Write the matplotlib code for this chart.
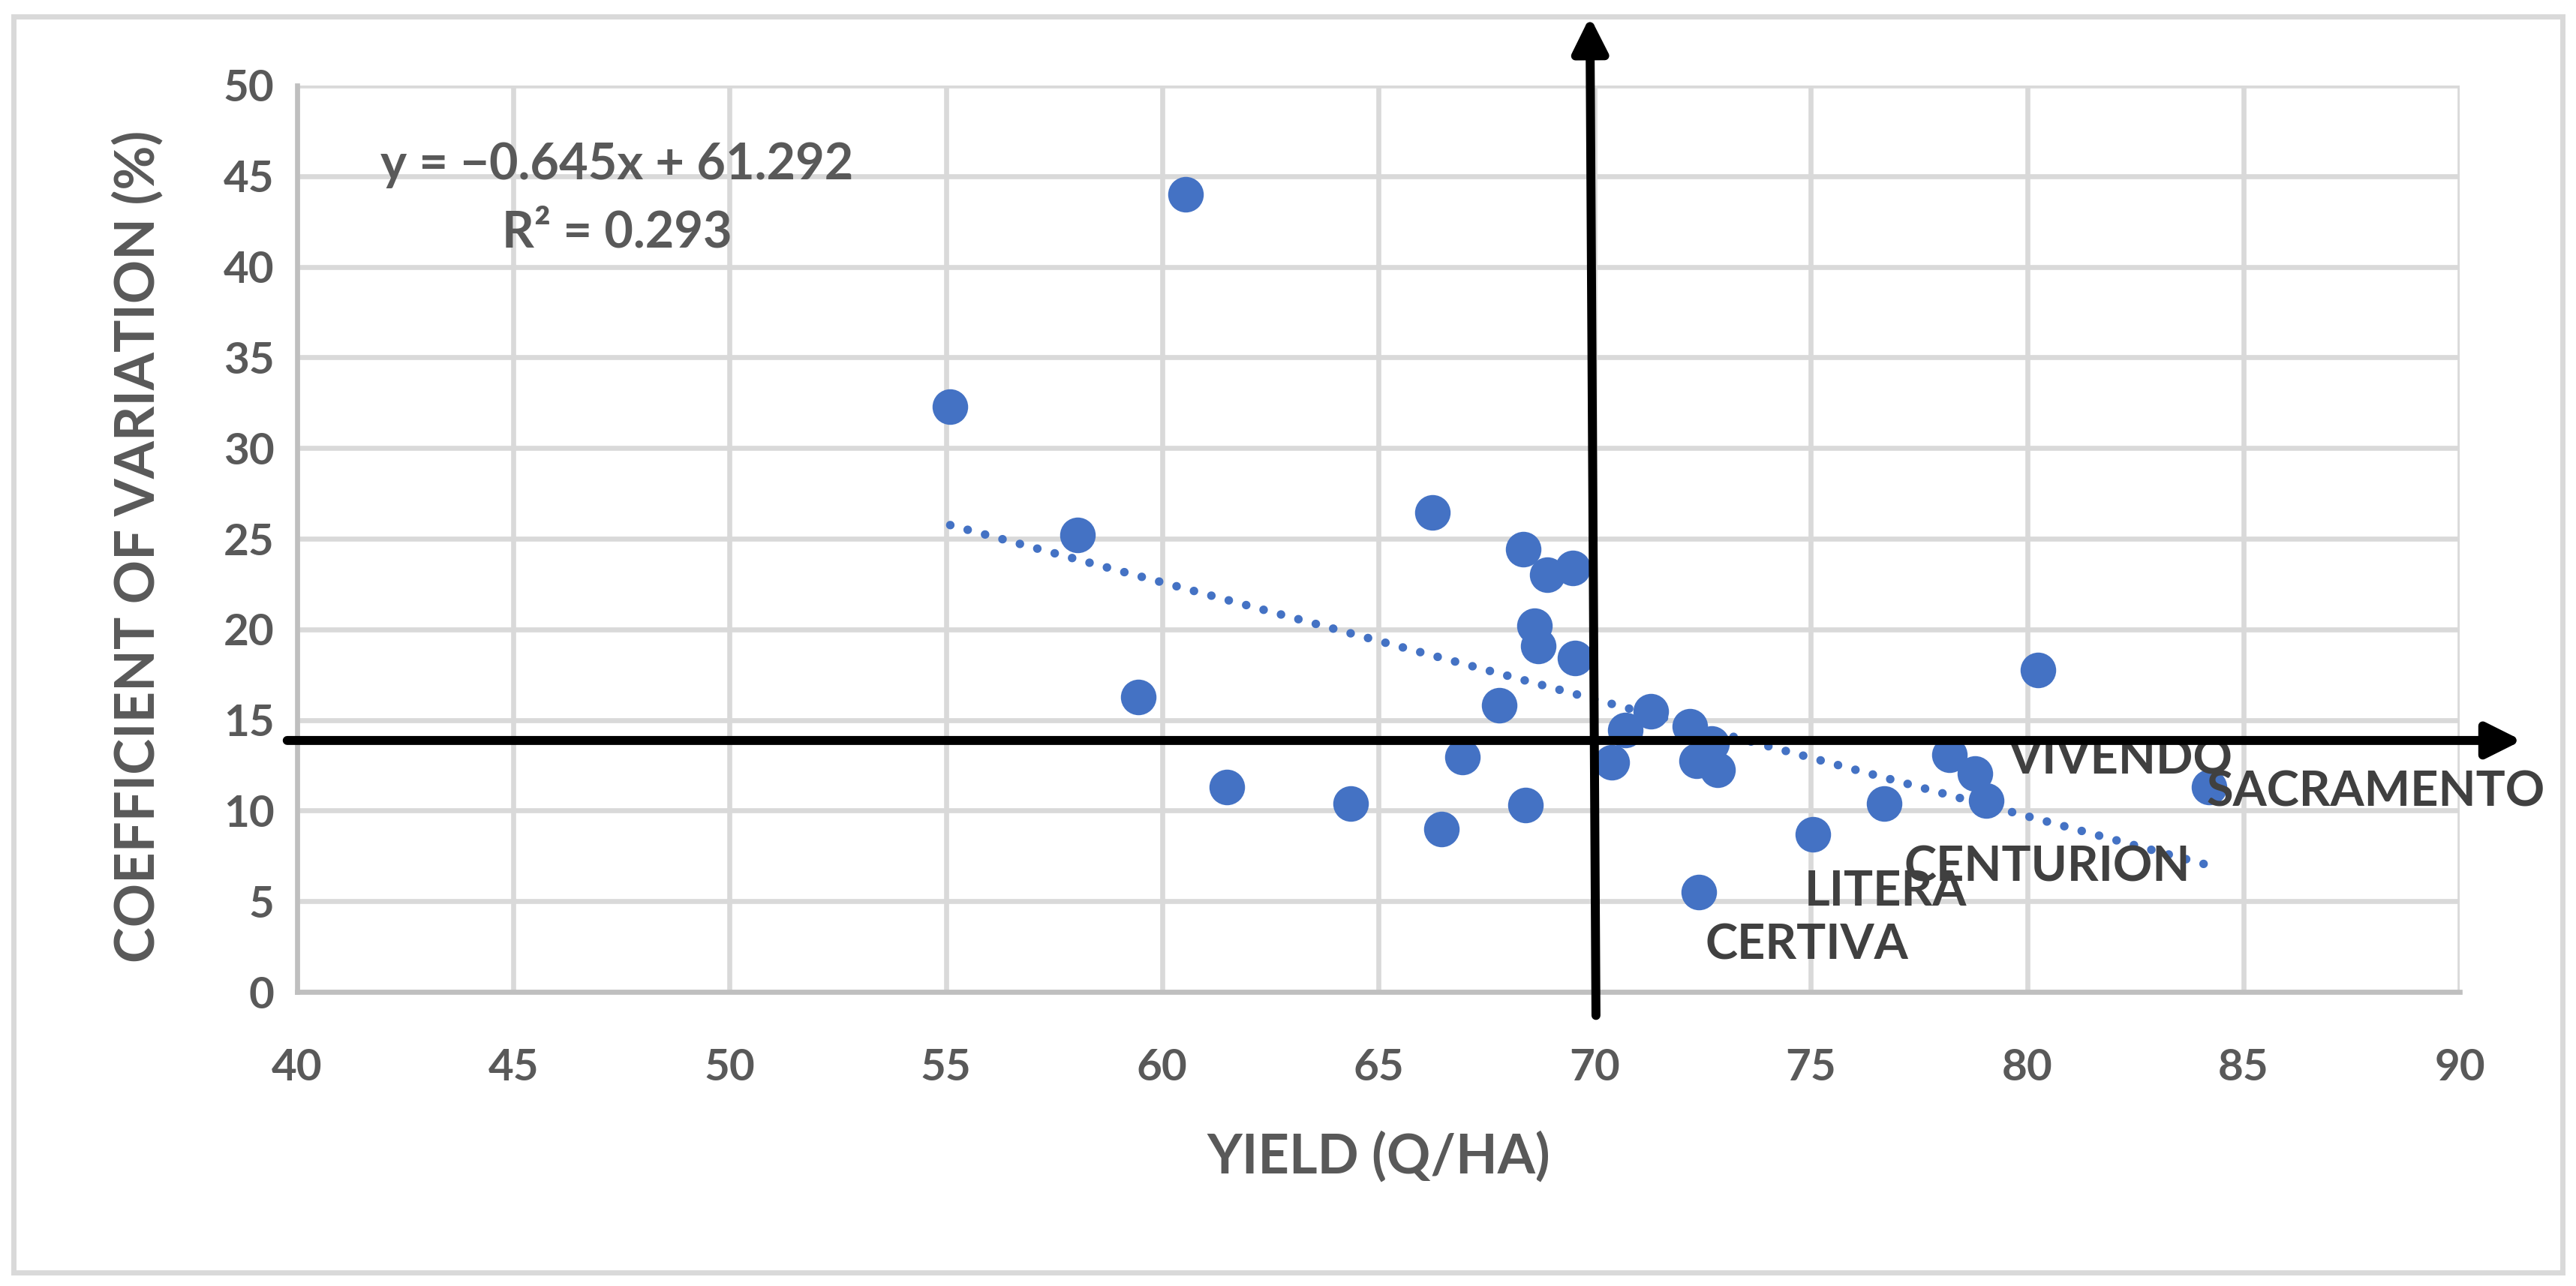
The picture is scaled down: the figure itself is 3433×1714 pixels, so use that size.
import numpy as np
import matplotlib
matplotlib.use("Agg")
import matplotlib.pyplot as plt
from matplotlib.patches import Rectangle

plt.rcParams["font.family"] = ["Lato", "DejaVu Sans"]

# 产量与变异系数
YIELD = [60.55, 55.1, 66.25, 58.05, 68.35, 69.5, 68.9, 68.6, 68.7, 69.55,
         80.25, 59.45, 67.8, 71.3, 70.7, 70.4, 72.2, 72.7, 72.35, 72.85,
         66.95, 61.5, 64.35, 68.4, 66.45, 76.7, 75.05, 72.4, 78.2, 78.8,
         79.05, 84.2]
CV = [44.0, 32.3, 26.45, 25.2, 24.4, 23.4, 23.0, 20.2, 19.1, 18.4,
      17.75, 16.25, 15.8, 15.5, 14.45, 12.65, 14.65, 13.7, 12.75, 12.25,
      12.95, 11.3, 10.4, 10.3, 9.0, 10.4, 8.7, 5.5, 13.1, 12.05,
      10.55, 11.3]

# 品种标注
LABELS = ["VIVENDO", "SACRAMENTO", "CENTURION", "LITERA", "CERTIVA"]
LABEL_X = [79.56, 84.15, 77.15, 74.85, 72.56]
LABEL_Y = [12.02, 10.24, 6.12, 4.75, 1.80]

# 趋势线
SLOPE, INTERCEPT, R2 = -0.645, 61.292, 0.293

X_TICKS = list(range(40, 95, 5))
Y_TICKS = list(range(0, 55, 5))

# 十字参考线
REF_X_BOTTOM, REF_X_TOP = 70.03, 69.89
REF_Y = 13.87

BLUE = "#4472C4"
GRAY = "#595959"
DARK = "#404040"

fig = plt.figure(figsize=(17.165, 8.57), dpi=200)
ax = fig.add_axes([0.11535, 0.2287, 0.8395, 0.70479])
ax.set_xlim(40, 90)
ax.set_ylim(0, 50)
ax.set_xticks(X_TICKS)
ax.set_yticks(Y_TICKS)
ax.grid(color="#D9D9D9", lw=2.4)
ax.set_axisbelow(True)
for s in ["top", "right"]:
    ax.spines[s].set_visible(False)
for s in ["left", "bottom"]:
    ax.spines[s].set_color("#BFBFBF")
    ax.spines[s].set_linewidth(2.4)
ax.tick_params(axis="both", length=0, labelsize=21, labelcolor=GRAY)
ax.tick_params(axis="x", pad=27)
ax.tick_params(axis="y", pad=11)
for lab in ax.get_xticklabels() + ax.get_yticklabels():
    lab.set_fontweight("bold")

# 趋势线
xs = np.array([min(YIELD), max(YIELD)])
ax.plot(xs, SLOPE * xs + INTERCEPT, color=BLUE, lw=4.1,
        linestyle=(0, (0.01, 2.1)), dash_capstyle="round", zorder=2)

ax.scatter(YIELD, CV, s=292, color=BLUE, linewidths=0, zorder=3)

for name, x, y in zip(LABELS, LABEL_X, LABEL_Y):
    ax.text(x, y, name, ha="left", va="baseline", fontsize=23.4,
            fontweight="bold", color=DARK, zorder=4)

eq = f"y = {SLOPE:.3f}x + {INTERCEPT:.3f}".replace("-", "\u2212")
ax.text(47.4, 44.81, eq, ha="center", va="baseline", fontsize=24,
        fontweight="bold", color=GRAY, zorder=4)
ax.text(47.4, 41.06, f"R\u00b2 = {R2:.3f}", ha="center", va="baseline",
        fontsize=24, fontweight="bold", color=GRAY, zorder=4)

# 箭头
arrow = dict(arrowstyle="-|>,head_length=14,head_width=7", mutation_scale=1,
             lw=4.3, color="black", shrinkA=0, shrinkB=0)
ax.annotate("", xy=(91.44, REF_Y), xytext=(39.77, REF_Y), arrowprops=arrow,
            annotation_clip=False, zorder=5)
ax.annotate("", xy=(REF_X_TOP, 53.8), xytext=(REF_X_BOTTOM, -1.3),
            arrowprops=arrow, annotation_clip=False, zorder=5)

fig.text(0.5351, 0.1003, "YIELD (Q/HA)", ha="center", va="center",
         fontsize=26, fontweight="bold", color=GRAY)
fig.text(0.0536, 0.575, "COEFFICIENT OF VARIATION (%)", rotation=90,
         ha="center", va="center", fontsize=26, fontweight="bold", color=GRAY)

fig.patches.append(Rectangle((0.0052, 0.0105), 0.9896, 0.9767,
                             transform=fig.transFigure, fill=False,
                             ec="#D9D9D9", lw=2.5))

fig.savefig("out.png", dpi=200)
